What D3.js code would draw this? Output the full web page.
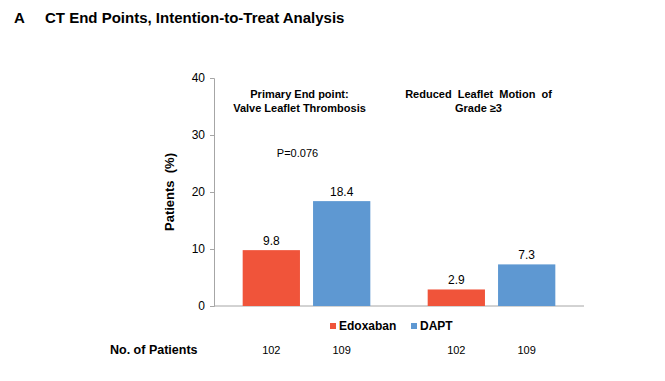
<!DOCTYPE html>
<html>
<head>
<meta charset="utf-8">
<script src="https://cdn.jsdelivr.net/npm/d3@7"></script>
<style>
  body { margin: 0; background: #fff; }
  text { font-family: "Liberation Sans", Arial, sans-serif; fill: #000; }
</style>
</head>
<body>
<svg id="chart" width="665" height="381"></svg>
<script>
// data
const groups = ["Primary End point", "Reduced Leaflet Motion"];
const series = ["Edoxaban", "DAPT"];
const edoxaban = [9.8, 2.9];
const dapt = [18.4, 7.3];
const patients = [[102, 109], [102, 109]];
const yTicks = [0, 10, 20, 30, 40];
const groupTitles = [
  ["Primary End point:", "Valve Leaflet Thrombosis"],
  ["Reduced  Leaflet  Motion  of", "Grade \u22653"]
];
const colors = ["#F0543A", "#5E98D2"];

const svg = d3.select("#chart");
const margin = { left: 214, top: 78, right: 81, bottom: 75 };
const width = 665 - margin.left - margin.right;
const height = 381 - margin.top - margin.bottom;

const g = svg.append("g")
  .attr("transform", "translate(" + margin.left + "," + margin.top + ")");

const x0 = d3.scaleBand().domain(groups).range([0, width])
  .paddingInner(0.31).paddingOuter(0.155);
const x1 = d3.scaleBand().domain(series).range([0, x0.bandwidth()])
  .paddingInner(0.186);
const y = d3.scaleLinear().domain([0, 40]).range([height, 0]);

const rows = groups.map(function (gr, i) {
  return { group: gr, values: [edoxaban[i], dapt[i]], n: patients[i], i: i };
});

// title
svg.append("text").attr("x", 14).attr("y", 23)
  .style("font-weight", "bold").style("font-size", "15px").text("A");
svg.append("text").attr("x", 45).attr("y", 23)
  .style("font-weight", "bold").style("font-size", "15px")
  .text("CT End Points, Intention-to-Treat Analysis");

// y axis
const yAxis = g.append("g")
  .call(d3.axisLeft(y).tickValues(yTicks).tickSize(4).tickPadding(5));
yAxis.select(".domain").attr("stroke", "#a6a6a6");
yAxis.selectAll(".tick line").attr("stroke", "#a6a6a6");
yAxis.selectAll("text").style("font-size", "12px")
  .style("font-family", "Liberation Sans, Arial, sans-serif").attr("fill", "#000");

// x axis line
g.append("line").attr("x1", 0).attr("x2", width)
  .attr("y1", y(0)).attr("y2", y(0)).attr("stroke", "#a6a6a6");

svg.append("text")
  .attr("transform", "translate(174," + (margin.top + height / 2) + ") rotate(-90)")
  .attr("text-anchor", "middle")
  .style("font-weight", "bold").style("font-size", "13px")
  .style("white-space", "pre")
  .text("Patients  (%)");

// bars
const grp = g.selectAll(".grp").data(rows).enter().append("g")
  .attr("class", "grp")
  .attr("transform", function (d) { return "translate(" + x0(d.group) + ",0)"; });

grp.selectAll("rect").data(function (d) {
  return d.values.map(function (v, j) { return { s: series[j], v: v, j: j }; });
}).enter().append("rect")
  .attr("x", function (d) { return x1(d.s); })
  .attr("y", function (d) { return y(d.v); })
  .attr("width", x1.bandwidth())
  .attr("height", function (d) { return y(0) - y(d.v); })
  .attr("fill", function (d) { return colors[d.j]; });

grp.selectAll(".val").data(function (d) {
  return d.values.map(function (v, j) { return { s: series[j], v: v }; });
}).enter().append("text")
  .attr("class", "val")
  .attr("x", function (d) { return x1(d.s) + x1.bandwidth() / 2; })
  .attr("y", function (d) { return y(d.v) - 5; })
  .attr("text-anchor", "middle").style("font-size", "12px")
  .text(function (d) { return d3.format(".1f")(d.v); });

// patient counts
grp.selectAll(".n").data(function (d) {
  return d.n.map(function (v, j) { return { s: series[j], v: v }; });
}).enter().append("text")
  .attr("class", "n")
  .attr("x", function (d) { return x1(d.s) + x1.bandwidth() / 2; })
  .attr("y", height + 48)
  .attr("text-anchor", "middle").style("font-size", "11px")
  .text(function (d) { return d.v; });

svg.append("text").attr("x", 110).attr("y", margin.top + height + 48)
  .style("font-weight", "bold").style("font-size", "12.5px")
  .text("No. of Patients");

// group titles
grp.each(function (d) {
  const t = d3.select(this).append("text")
    .attr("text-anchor", "middle")
    .style("font-weight", "bold").style("font-size", "11px")
    .style("white-space", "pre");
  groupTitles[d.i].forEach(function (line, k) {
    t.append("tspan").attr("x", x0.bandwidth() / 2 - (d.i === 0 ? 7 : 13))
      .attr("y", 20 + k * 14).text(line);
  });
});

g.append("text")
  .attr("x", x0(groups[0]) + x0.bandwidth() / 2 - 9)
  .attr("y", y(0) - 149)
  .attr("text-anchor", "middle").style("font-size", "11px")
  .text("P=0.076");

// legend
const legend = svg.append("g").attr("transform", "translate(330," + (margin.top + height + 17) + ")");
const legX = [0, 81];
series.forEach(function (s, j) {
  legend.append("rect").attr("x", legX[j]).attr("y", 0).attr("width", 6).attr("height", 6)
    .attr("fill", colors[j]);
  legend.append("text").attr("x", legX[j] + 9).attr("y", 7)
    .style("font-weight", "bold").style("font-size", "12px").text(s);
});
</script>
</body>
</html>
